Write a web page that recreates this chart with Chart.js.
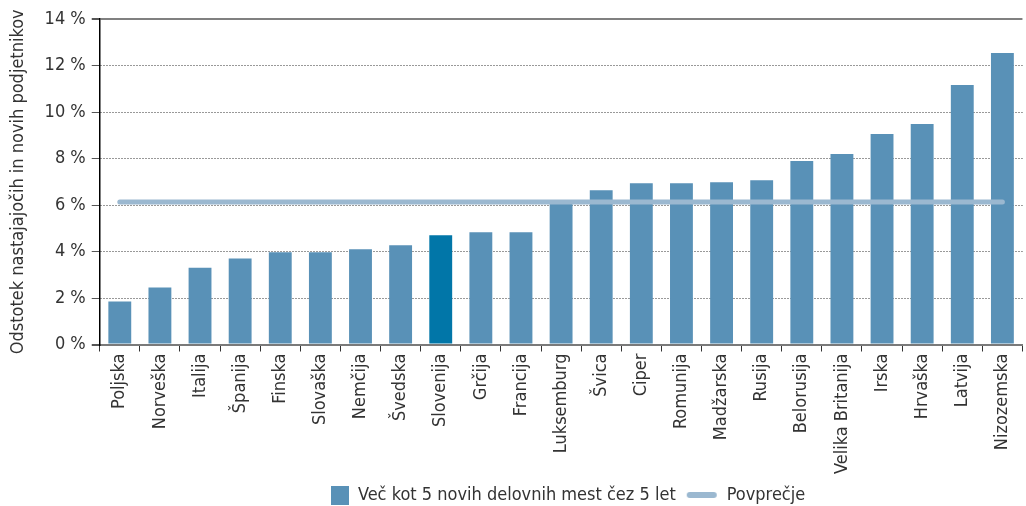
<!DOCTYPE html>
<html lang="sl">
<head>
<meta charset="utf-8">
<title>Podjetniki</title>
<script src="https://cdn.jsdelivr.net/npm/chart.js@4"></script>
<style>
    body { margin: 0; background: #fff; }
    #contenedor { width: 1026px; height: 506px; }
</style>
</head>
<body>
<div id="contenedor"><canvas id="myChart"></canvas></div>
<script>
// datos
const paises = ['Poljska', 'Norveška', 'Italija', 'Španija', 'Finska', 'Slovaška', 'Nemčija', 'Švedska',
    'Slovenija', 'Grčija', 'Francija', 'Luksemburg', 'Švica', 'Ciper', 'Romunija', 'Madžarska', 'Rusija',
    'Belorusija', 'Velika Britanija', 'Irska', 'Hrvaška', 'Latvija', 'Nizozemska'];
const valores = [1.85, 2.45, 3.3, 3.7, 3.97, 3.97, 4.1, 4.27, 4.7, 4.83, 4.83, 6.1, 6.64, 6.94, 6.94, 6.98,
    7.07, 7.89, 8.19, 9.05, 9.48, 11.16, 12.54];
const promedio = 6.13;
const promedioSerie = paises.map(() => promedio);
const etiquetaBarras = 'Več kot 5 novih delovnih mest čez 5 let';
const etiquetaPromedio = 'Povprečje';
const tituloEjeY = 'Odstotek nastajajočih in novih podjetnikov';

const fuente = '"Liberation Sans Narrow", "DejaVu Sans Condensed", "Noto Sans", sans-serif';
const colorBarra = '#5991b7';
const colorSlovenija = '#0176a8';
const colorPromedio = '#9bb8d0';

// cajas de la leyenda (dibujadas a mano)
function cajaLeyenda(ancho, alto, dibujar) {
    const c = document.createElement('canvas');
    c.width = ancho;
    c.height = alto;
    dibujar(c.getContext('2d'));
    return c;
}
const cajaBarra = cajaLeyenda(32, 19, ctx => {
    ctx.fillStyle = colorBarra;
    ctx.fillRect(14, 0, 18, 19);
});
const cajaLinea = cajaLeyenda(32, 8, ctx => {
    ctx.strokeStyle = colorPromedio;
    ctx.lineWidth = 6;
    ctx.lineCap = 'round';
    ctx.beginPath();
    ctx.moveTo(4, 4);
    ctx.lineTo(28, 4);
    ctx.stroke();
});

const esBorde = v => v === 0 || v === 14;

const ctx = document.getElementById('myChart').getContext('2d');
new Chart(ctx, {
    type: 'bar',
    data: {
        labels: paises,
        datasets: [
            {
                label: etiquetaBarras,
                data: valores,
                backgroundColor: paises.map(p => p === 'Slovenija' ? colorSlovenija : colorBarra),
                barPercentage: 0.57,
                categoryPercentage: 1,
                pointStyle: cajaBarra,
                order: 1
            },
            {
                type: 'line',
                label: etiquetaPromedio,
                data: promedioSerie,
                borderColor: colorPromedio,
                backgroundColor: colorPromedio,
                borderWidth: 5,
                borderCapStyle: 'round',
                pointRadius: 0,
                pointStyle: cajaLinea,
                fill: false,
                order: 0
            }
        ]
    },
    options: {
        responsive: true,
        maintainAspectRatio: false,
        animation: false,
        layout: { padding: { top: 19, right: 0, left: 8, bottom: -8 } },
        font: { family: fuente },
        plugins: {
            tooltip: { enabled: false },
            legend: {
                position: 'bottom',
                fullSize: false,
                labels: {
                    usePointStyle: true,
                    pointStyleWidth: 32,
                    boxHeight: 18,
                    padding: 10,
                    color: '#333',
                    font: { family: fuente, size: 18 },
                    sort: (a, b) => a.datasetIndex - b.datasetIndex
                }
            }
        },
        scales: {
            x: {
                offset: true,
                grid: {
                    offset: true,
                    drawOnChartArea: false,
                    tickLength: 7,
                    color: '#333'
                },
                border: { color: '#7a7a7a', width: 2 },
                ticks: {
                    minRotation: 90,
                    maxRotation: 90,
                    autoSkip: false,
                    color: '#333',
                    padding: 2,
                    font: { family: fuente, size: 18 }
                }
            },
            y: {
                min: 0,
                max: 14,
                ticks: {
                    stepSize: 2,
                    color: '#333',
                    padding: 6,
                    font: { family: fuente, size: 18 },
                    callback: v => v + ' %'
                },
                grid: {
                    color: c => esBorde(c.tick.value) ? '#808080' : '#333',
                    lineWidth: c => esBorde(c.tick.value) ? 2 : 1,
                    tickColor: '#555',
                    tickLength: 8
                },
                border: {
                    color: '#000',
                    width: 1.5,
                    dash: c => (c.tick && esBorde(c.tick.value)) ? [] : [1, 2]
                },
                title: {
                    display: true,
                    text: tituloEjeY,
                    color: '#333',
                    padding: { top: 0, bottom: 9 },
                    font: { family: fuente, size: 18 }
                }
            }
        }
    }
});
</script>
</body>
</html>
